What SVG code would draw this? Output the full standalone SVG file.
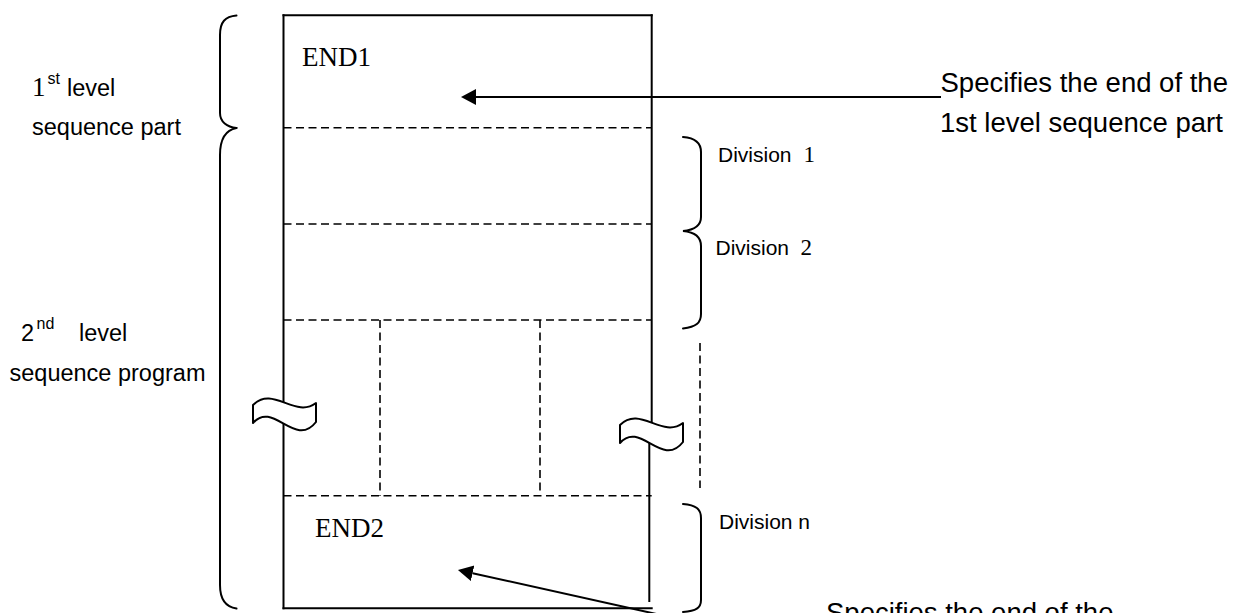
<svg xmlns="http://www.w3.org/2000/svg" width="1235" height="613" viewBox="0 0 1235 613">
  <style>
    .sans { font-family: "Liberation Sans", Arial, sans-serif; fill: #000; }
    .serif { font-family: "Liberation Serif", "Times New Roman", serif; fill: #000; }
    .solid { fill: none; stroke: #000; stroke-width: 2; }
    .dash { fill: none; stroke: #000; stroke-width: 1.6; stroke-dasharray: 8 4.5; }
    .brace { fill: none; stroke: #000; stroke-width: 2; stroke-linecap: round; }
    .wave { fill: #fff; stroke: #000; stroke-width: 2; stroke-linejoin: round; }
    .lbl { font-size: 23.5px; }
    .sup { font-size: 16px; }
    .note { font-size: 27.5px; }
    .div { font-size: 21px; }
    .digit { font-size: 23px; }
    .end { font-size: 27px; }
  </style>
  <defs>
    <marker id="arrowhead" markerUnits="userSpaceOnUse" markerWidth="16" markerHeight="17" refX="0" refY="8" orient="auto">
      <path d="M0,0 L15,8 L0,16 Z" fill="#000"/>
    </marker>
    <!-- break mark drawn over an interrupted vertical line -->
    <path id="breakmark" class="wave" d="M0,0 C20,-20 42,14 63,-2 L63,17 C42,44 20,-5 0,18 Z"/>
  </defs>

  <rect width="1235" height="613" fill="#fff"/>

  <!-- program area -->
  <g id="program-box">
    <line class="solid" x1="282.5" y1="15.3" x2="652.7" y2="15.3"/>
    <line class="solid" x1="283.5" y1="14.3" x2="283.5" y2="609.3"/>
    <line class="solid" x1="282.5" y1="608.3" x2="652.7" y2="608.3"/>
    <line class="solid" x1="651.7" y1="14.3" x2="651.7" y2="430"/>
    <line class="solid" x1="649.3" y1="435" x2="649.3" y2="602"/>
    <line class="dash" x1="283.5" y1="127.7" x2="651.7" y2="127.7"/>
    <line class="dash" x1="283.5" y1="224" x2="651.7" y2="224"/>
    <line class="dash" x1="283.5" y1="320" x2="651.7" y2="320"/>
    <line class="dash" x1="283.5" y1="495.7" x2="651.7" y2="495.7"/>
    <line class="dash" x1="380" y1="320" x2="380" y2="495.7"/>
    <line class="dash" x1="540" y1="320" x2="540" y2="495.7"/>
    <text class="serif end" x="302" y="66">END1</text>
    <text class="serif end" x="315" y="536.7">END2</text>
  </g>

  <!-- continuation mark beside the divisions -->
  <g id="continuation">
    <line class="dash" x1="700" y1="343" x2="700" y2="488"/>
  </g>

  <!-- break marks -->
  <g id="breaks">
    <use href="#breakmark" transform="translate(253,405)"/>
    <use href="#breakmark" transform="translate(620,425)"/>
  </g>

  <!-- left braces and labels -->
  <g id="level1-label">
    <path class="brace" d="M236.5,15.5 C225,16.5 220,22 220,35 L220,113 C220,122 227,127 236.5,128"/>
    <text class="lbl" x="32" y="96"><tspan class="serif" font-size="27px">1</tspan><tspan class="sans sup" x="47.5" y="84">st</tspan><tspan class="sans" x="67" y="96">level</tspan></text>
    <text class="sans lbl" x="32" y="135">sequence part</text>
  </g>
  <g id="level2-label">
    <path class="brace" d="M236.5,128 C226,130 220,139 220,155 L220,585 C220,600 226,607 236.5,608.5"/>
    <text class="sans lbl" x="21" y="340.7">2<tspan class="sup" x="36.5" y="328.5">nd</tspan><tspan x="79" y="340.7">level</tspan></text>
    <text class="sans lbl" x="9.5" y="381">sequence program</text>
  </g>

  <!-- right braces and division labels -->
  <g id="division-1-2">
    <path class="brace" d="M683,137 C696,138 701,143 701,152 L701,217 C701,226 694,230 683,231 C694,232 701,237 701,246 L701,314 C701,323 696,327 683,328.5"/>
    <text class="sans div" x="718" y="162.3">Division<tspan class="serif digit" x="803.5">1</tspan></text>
    <text class="sans div" x="715.5" y="255">Division<tspan class="serif digit" x="800.5">2</tspan></text>
  </g>
  <g id="division-n">
    <path class="brace" d="M683,504 C696,505 701,509 701,518 L701,600 C701,608 696,611 683,612"/>
    <text class="sans div" x="719" y="529">Division n</text>
  </g>

  <!-- pointers to END1 and END2 -->
  <g id="connectors">
    <line class="solid" x1="941" y1="97" x2="476" y2="97" marker-end="url(#arrowhead)"/>
    <line class="solid" x1="660" y1="614.8" x2="472.6" y2="573.2" marker-end="url(#arrowhead)"/>
  </g>

  <g id="note-end1">
    <text class="sans note" x="940.5" y="92">Specifies the end of the</text>
    <text class="sans note" x="940" y="132">1st level sequence part</text>
  </g>
  <g id="note-end2">
    <text class="sans note" x="826" y="621.7">Specifies the end of the</text>
  </g>
</svg>
